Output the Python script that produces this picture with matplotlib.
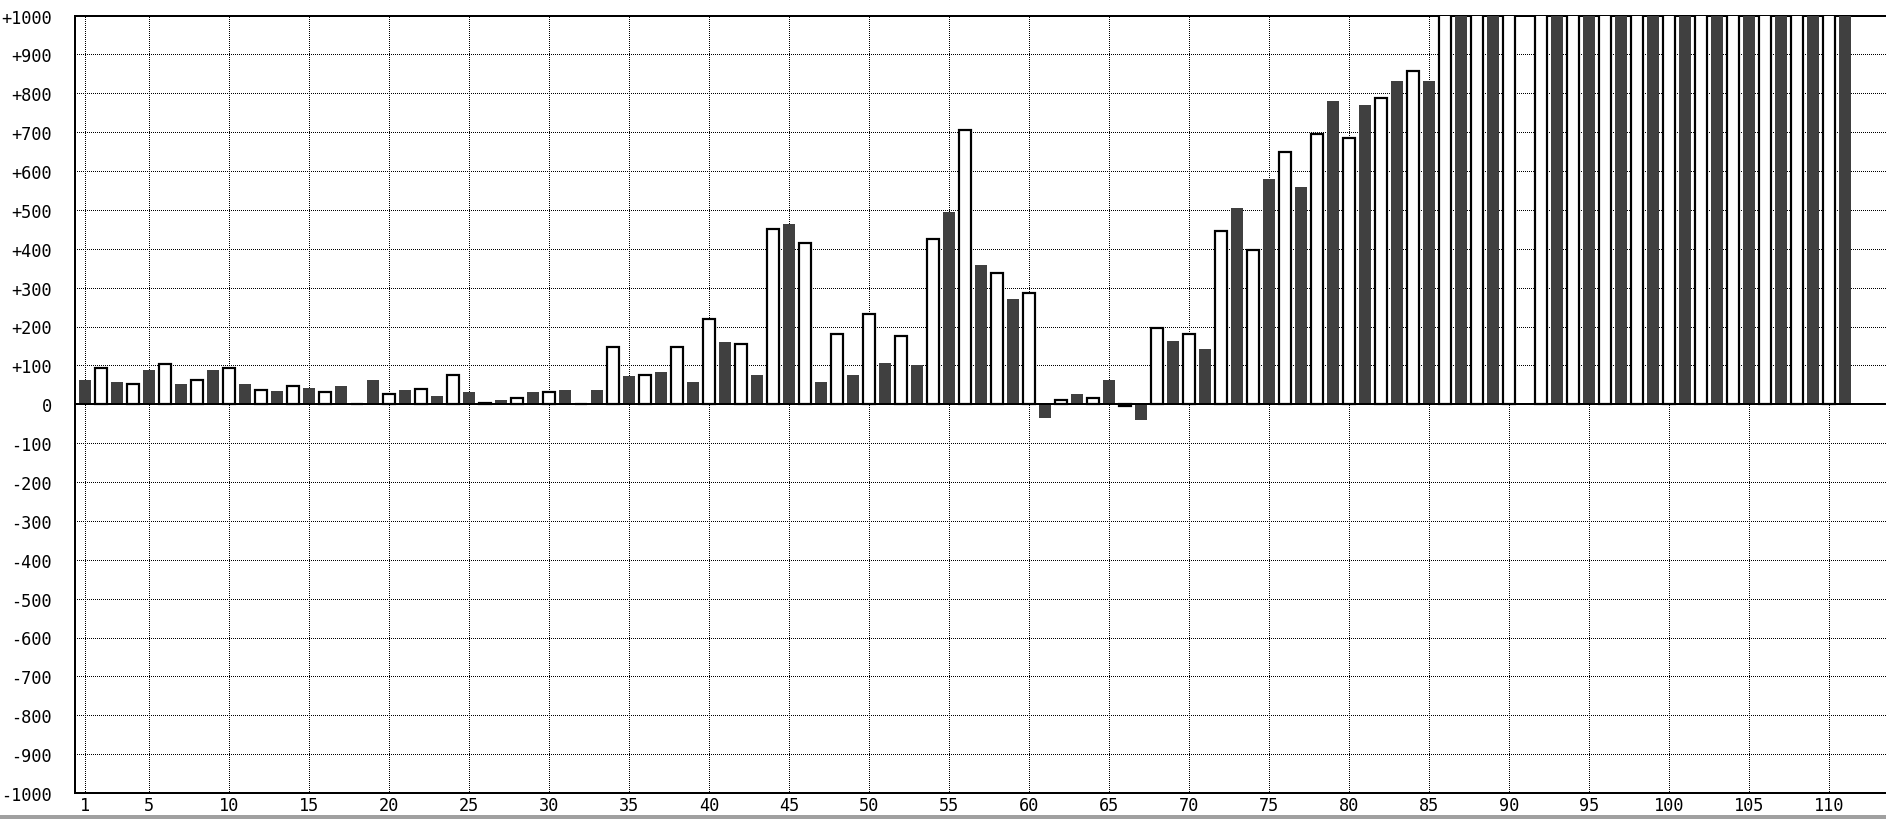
import matplotlib
matplotlib.use("Agg")
import matplotlib.pyplot as plt
from matplotlib.patches import Rectangle
import numpy as np

# ---- data ----
positions = list(range(1, 112))
values = [
    63, 93, 58, 51, 89, 103, 53, 62, 89, 93,        # 1-10
    53, 37, 33, 46, 43, 32, 48, 0, 63, 26,          # 11-20
    37, 39, 21, 76, 32, 4, 11, 15, 32, 31,          # 21-30
    37, 0, 37, 148, 73, 76, 83, 148, 57, 220,       # 31-40
    160, 155, 74, 451, 463, 415, 58, 181, 74, 233,  # 41-50
    105, 176, 100, 425, 494, 706, 359, 337, 271, 285,  # 51-60
    -35, 10, 27, 15, 63, -5, -40, 196, 162, 181,    # 61-70
    141, 445, 506, 398, 579, 649, 558, 696, 780, 685,  # 71-80
    770, 788, 831, 856, 831, 1100, 1100, 1100, 1100, 1100,  # 81-90
    2, 1100, 1100, 1100, 1100, 1100, 1100, 1100, 1100, 1100,  # 91-100
    1100, 1100, 1100, 1100, 1100, 1100, 1100, 1100, 1100, 1100,  # 101-110
    1100,                                            # 111
]
# kind of each bar: 'W' hollow white, 'D' dark filled
kinds = ['D' if p % 2 == 1 else 'W' for p in positions]

x_ticks = [1] + list(range(5, 111, 5))
y_ticks = list(range(-1000, 1001, 100))
y_labels = [("+%d" % v if v > 0 else ("0" if v == 0 else "%d" % v)) for v in y_ticks]

# ---- figure ----
W, H = 1886, 820
fig = plt.figure(figsize=(W / 100, H / 100), dpi=100)
left_px, top_px, bottom_px = 75, 16.5, 794
ax = fig.add_axes([left_px / W, (H - bottom_px) / H, 1 - left_px / W, (bottom_px - top_px) / H])

px = 72 / 100  # one pixel in points
dark = '#404040'

xw = [p for p, k in zip(positions, kinds) if k == 'W']
vw = [v for v, k in zip(values, kinds) if k == 'W']
xd = [p for p, k in zip(positions, kinds) if k == 'D']
vd = [v for v, k in zip(values, kinds) if k == 'D']

ax.bar(xd, vd, width=0.75, color=dark, edgecolor='none', linewidth=0, zorder=3)
ax.bar(xw, vw, width=0.69, color='white', edgecolor='black', linewidth=2.2 * px, zorder=3)

ax.axhline(0, color='black', linewidth=2 * px, zorder=4)

ax.set_xlim(1 - 10 / 16, 1 + (W - 85) / 16)
ax.set_ylim(-1000, 1000)

ax.set_xticks(x_ticks)
ax.set_xticklabels([str(t) for t in x_ticks])
ax.set_yticks(y_ticks)
ax.set_yticklabels(y_labels)

for lab in ax.get_xticklabels() + ax.get_yticklabels():
    lab.set_fontfamily('DejaVu Sans Mono')
    lab.set_fontsize(12.2)

ax.tick_params(axis='both', length=0, colors='black')
ax.tick_params(axis='y', pad=16.5)
ax.tick_params(axis='x', pad=2.5)

ax.set_axisbelow(True)
ax.grid(True, color='black', linewidth=1.0 * px, linestyle=(0, (1.0, 1.3)),
        antialiased=False)

for side in ['left', 'bottom', 'top']:
    ax.spines[side].set_linewidth(2 * px)
    ax.spines[side].set_color('black')
ax.spines['right'].set_visible(False)

# grey strip at the bottom edge of the window
fig.add_artist(Rectangle((0, 0), 1, 4 / H, transform=fig.transFigure,
                         facecolor='#a0a0a0', edgecolor='none'))

fig.savefig('out.png', dpi=100)
